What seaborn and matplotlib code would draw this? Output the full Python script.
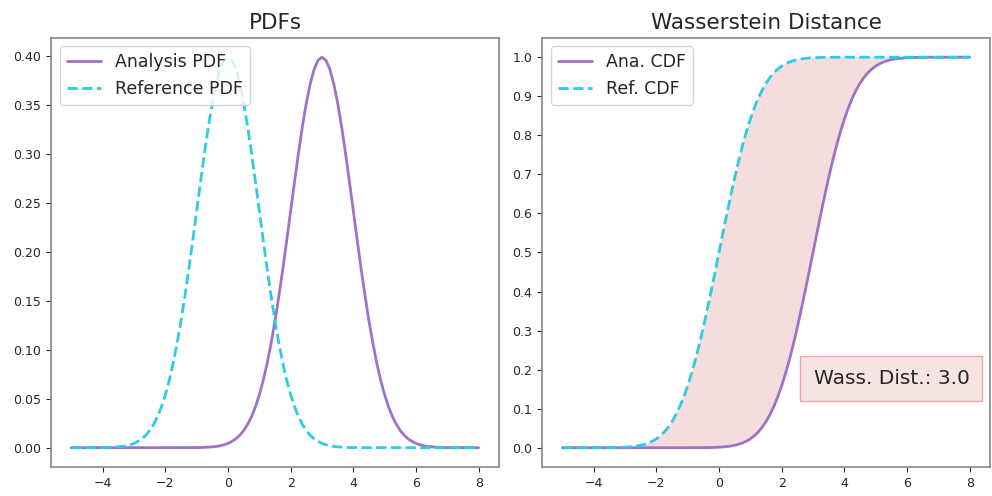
import matplotlib
matplotlib.use("Agg")
import matplotlib.pyplot as plt
import seaborn as sns
import pandas as pd

# sample positions (reference curve centred at 0, analysis curve at 3)
x_ref = [-5.0,
         -4.0, -3.875, -3.75, -3.625, -3.5, -3.375, -3.25, -3.125,
         -3.0, -2.875, -2.75, -2.625, -2.5, -2.375, -2.25, -2.125,
         -2.0, -1.875, -1.75, -1.625, -1.5, -1.375, -1.25, -1.125,
         -1.0, -0.875, -0.75, -0.625, -0.5, -0.375, -0.25, -0.125,
         0.0, 0.125, 0.25, 0.375, 0.5, 0.625, 0.75, 0.875,
         1.0, 1.125, 1.25, 1.375, 1.5, 1.625, 1.75, 1.875,
         2.0, 2.125, 2.25, 2.375, 2.5, 2.625, 2.75, 2.875,
         3.0, 3.125, 3.25, 3.375, 3.5, 3.625, 3.75, 3.875,
         4.0,
         8.0]

x_ana = [-5.0,
         -1.0, -0.875, -0.75, -0.625, -0.5, -0.375, -0.25, -0.125,
         0.0, 0.125, 0.25, 0.375, 0.5, 0.625, 0.75, 0.875,
         1.0, 1.125, 1.25, 1.375, 1.5, 1.625, 1.75, 1.875,
         2.0, 2.125, 2.25, 2.375, 2.5, 2.625, 2.75, 2.875,
         3.0, 3.125, 3.25, 3.375, 3.5, 3.625, 3.75, 3.875,
         4.0, 4.125, 4.25, 4.375, 4.5, 4.625, 4.75, 4.875,
         5.0, 5.125, 5.25, 5.375, 5.5, 5.625, 5.75, 5.875,
         6.0, 6.125, 6.25, 6.375, 6.5, 6.625, 6.75, 6.875,
         7.0,
         8.0]

ref_pdf = [0.0,
           0.0001, 0.0002, 0.0004, 0.0006, 0.0009, 0.0013, 0.0020, 0.0030,
           0.0044, 0.0064, 0.0091, 0.0127, 0.0175, 0.0238, 0.0317, 0.0417,
           0.0540, 0.0688, 0.0863, 0.1066, 0.1295, 0.1550, 0.1826, 0.2119,
           0.2420, 0.2720, 0.3011, 0.3281, 0.3521, 0.3718, 0.3867, 0.3958,
           0.3989, 0.3958, 0.3867, 0.3718, 0.3521, 0.3281, 0.3011, 0.2720,
           0.2420, 0.2119, 0.1826, 0.1550, 0.1295, 0.1066, 0.0863, 0.0688,
           0.0540, 0.0417, 0.0317, 0.0238, 0.0175, 0.0127, 0.0091, 0.0064,
           0.0044, 0.0030, 0.0020, 0.0013, 0.0009, 0.0006, 0.0004, 0.0002,
           0.0001,
           0.0]

ana_pdf = [0.0,
           0.0001, 0.0002, 0.0004, 0.0006, 0.0009, 0.0013, 0.0020, 0.0030,
           0.0044, 0.0064, 0.0091, 0.0127, 0.0175, 0.0238, 0.0317, 0.0417,
           0.0540, 0.0688, 0.0863, 0.1066, 0.1295, 0.1550, 0.1826, 0.2119,
           0.2420, 0.2720, 0.3011, 0.3281, 0.3521, 0.3718, 0.3867, 0.3958,
           0.3989, 0.3958, 0.3867, 0.3718, 0.3521, 0.3281, 0.3011, 0.2720,
           0.2420, 0.2119, 0.1826, 0.1550, 0.1295, 0.1066, 0.0863, 0.0688,
           0.0540, 0.0417, 0.0317, 0.0238, 0.0175, 0.0127, 0.0091, 0.0064,
           0.0044, 0.0030, 0.0020, 0.0013, 0.0009, 0.0006, 0.0004, 0.0002,
           0.0001,
           0.0]

ref_cdf = [0.0,
           0.0000, 0.0001, 0.0001, 0.0001, 0.0002, 0.0004, 0.0006, 0.0009,
           0.0013, 0.0020, 0.0030, 0.0043, 0.0062, 0.0088, 0.0122, 0.0168,
           0.0228, 0.0304, 0.0401, 0.0521, 0.0668, 0.0846, 0.1056, 0.1303,
           0.1587, 0.1908, 0.2266, 0.2660, 0.3085, 0.3538, 0.4013, 0.4503,
           0.5000, 0.5497, 0.5987, 0.6462, 0.6915, 0.7340, 0.7734, 0.8092,
           0.8413, 0.8697, 0.8944, 0.9154, 0.9332, 0.9479, 0.9599, 0.9696,
           0.9772, 0.9832, 0.9878, 0.9912, 0.9938, 0.9957, 0.9970, 0.9980,
           0.9987, 0.9991, 0.9994, 0.9996, 0.9998, 0.9999, 0.9999, 0.9999,
           1.0,
           1.0]

ana_cdf = [0.0,
           0.0000, 0.0001, 0.0001, 0.0001, 0.0002, 0.0004, 0.0006, 0.0009,
           0.0013, 0.0020, 0.0030, 0.0043, 0.0062, 0.0088, 0.0122, 0.0168,
           0.0228, 0.0304, 0.0401, 0.0521, 0.0668, 0.0846, 0.1056, 0.1303,
           0.1587, 0.1908, 0.2266, 0.2660, 0.3085, 0.3538, 0.4013, 0.4503,
           0.5000, 0.5497, 0.5987, 0.6462, 0.6915, 0.7340, 0.7734, 0.8092,
           0.8413, 0.8697, 0.8944, 0.9154, 0.9332, 0.9479, 0.9599, 0.9696,
           0.9772, 0.9832, 0.9878, 0.9912, 0.9938, 0.9957, 0.9970, 0.9980,
           0.9987, 0.9991, 0.9994, 0.9996, 0.9998, 0.9999, 0.9999, 0.9999,
           1.0,
           1.0]

wass_dist = 3.0
titles = ["PDFs", "Wasserstein Distance"]
pdf_labels = ["Analysis PDF", "Reference PDF"]
cdf_labels = ["Ana. CDF", "Ref. CDF"]
cdf_yticks = [0.0, 0.1, 0.2, 0.3, 0.4, 0.5, 0.6, 0.7, 0.8, 0.9, 1.0]

sns.set_style("white")
plt.rcParams["font.family"] = ["DejaVu Sans"]

purple = "#9d72c8"
cyan = "#2ccbe6"

ref_df = pd.DataFrame({"x": x_ref, "pdf": ref_pdf, "cdf": ref_cdf})
ana_df = pd.DataFrame({"x": x_ana, "pdf": ana_pdf, "cdf": ana_cdf})

fig, axes = plt.subplots(1, 2, figsize=(9.92, 4.96), dpi=100)
fig.subplots_adjust(left=0.0514, right=0.998, top=0.924, bottom=0.058, wspace=0.096)

ax = axes[0]
sns.lineplot(data=ana_df, x="x", y="pdf", ax=ax, color=purple, lw=2, label=pdf_labels[0])
sns.lineplot(data=ref_df, x="x", y="pdf", ax=ax, color=cyan, lw=2, ls="--", label=pdf_labels[1])
ax.set_title(titles[0], fontsize=15.5)
ax.legend(loc="upper left", fontsize=12.5)

ax = axes[1]
# region between the two CDFs: along the reference curve, then back along the analysis curve
poly_x = list(ref_df["x"]) + list(ana_df["x"])[::-1]
poly_y = list(ref_df["cdf"]) + list(ana_df["cdf"])[::-1]
ax.fill(poly_x, poly_y, color="#e8a0a0", alpha=0.35, lw=0)
sns.lineplot(data=ana_df, x="x", y="cdf", ax=ax, color=purple, lw=2, label=cdf_labels[0])
sns.lineplot(data=ref_df, x="x", y="cdf", ax=ax, color=cyan, lw=2, ls="--", label=cdf_labels[1])
ax.set_title(titles[1], fontsize=15.5)
ax.legend(loc="upper left", fontsize=12.5)
ax.set_yticks(cdf_yticks)
ax.text(0.780, 0.2075, f"Wass. Dist.: {wass_dist}", transform=ax.transAxes, ha="center", va="center",
        fontsize=14.5, bbox=dict(boxstyle="square,pad=0.65", facecolor="#f8e0e0", edgecolor="#eba0a0", alpha=0.9))

for ax in axes:
    ax.set_xlabel("")
    ax.set_ylabel("")
    ax.tick_params(labelsize=9, length=3.5, left=True, bottom=True)
    for s in ax.spines.values():
        s.set_edgecolor("#888888")
        s.set_linewidth(1.2)

fig.savefig("out.png", dpi=100)
